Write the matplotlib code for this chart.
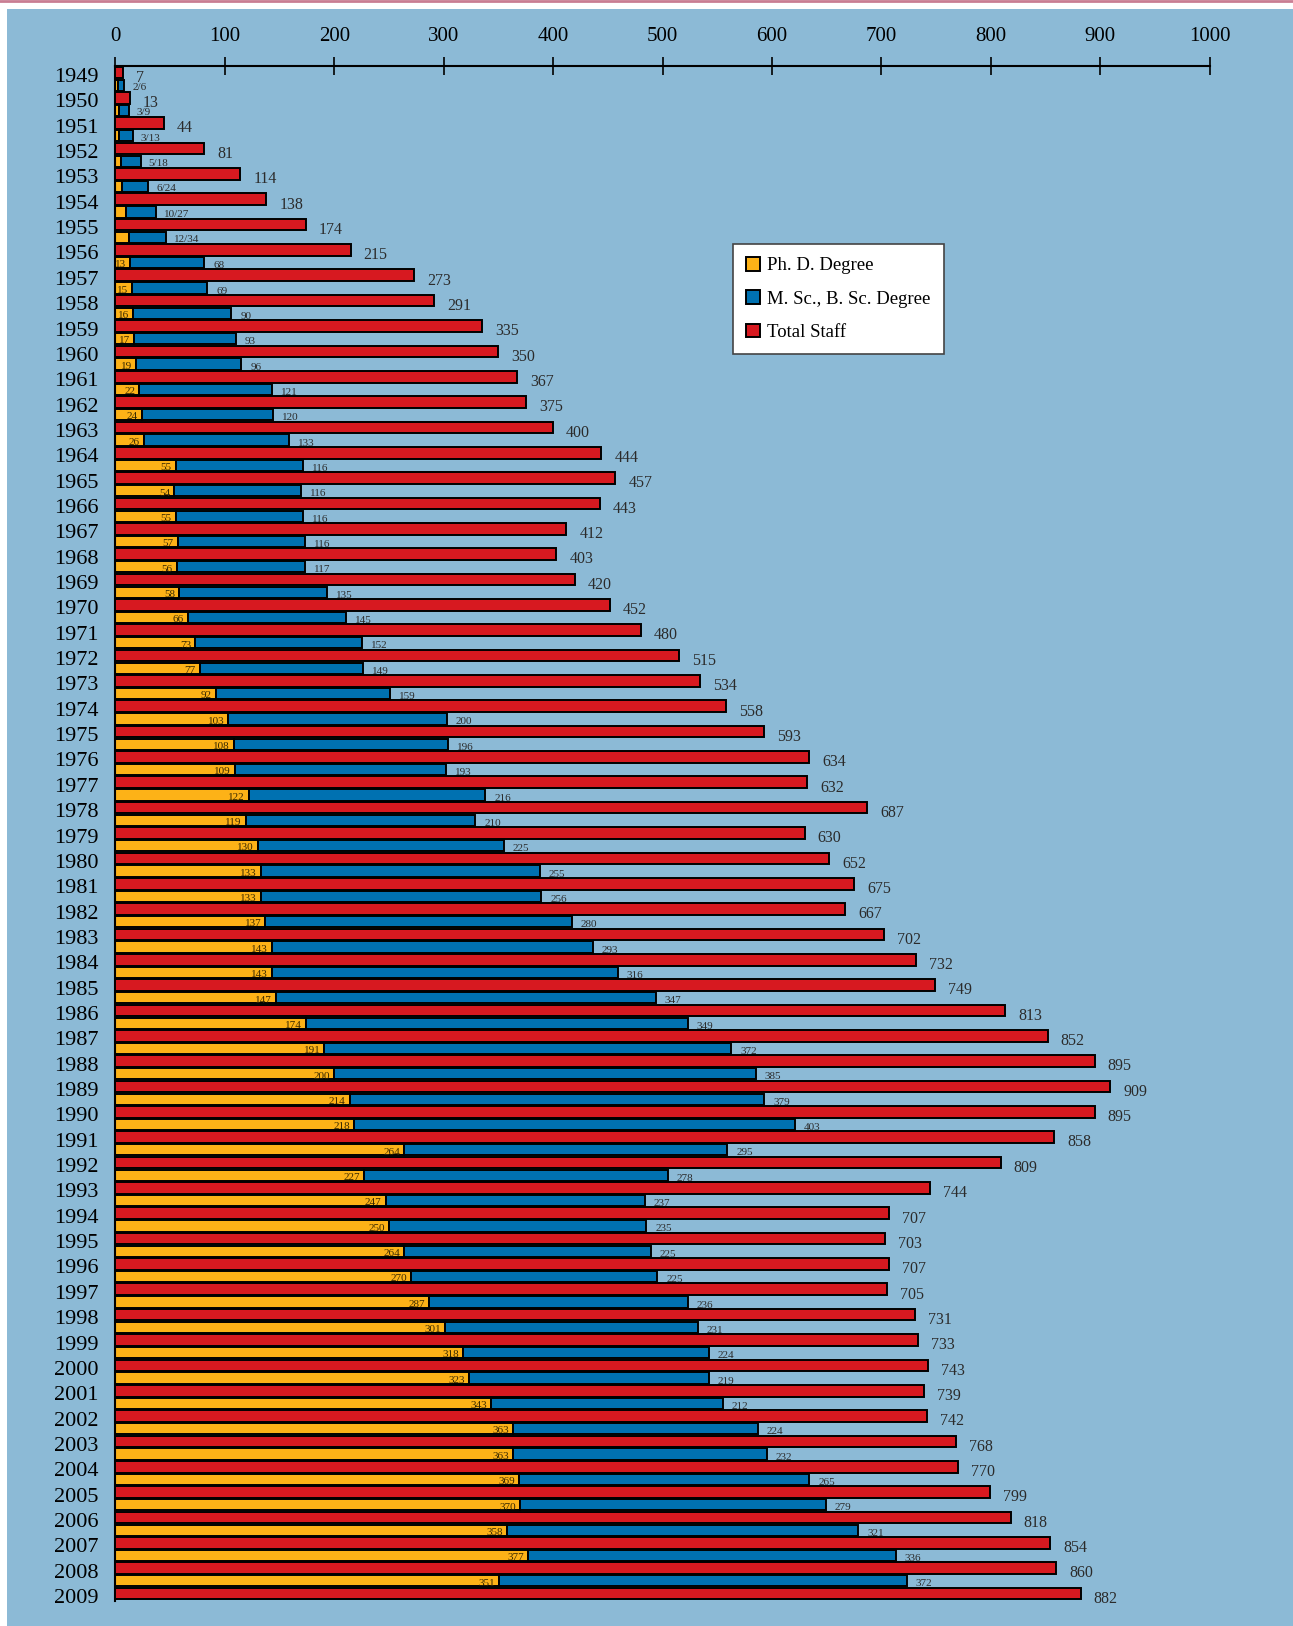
import numpy as np
import matplotlib
matplotlib.use('Agg')
from matplotlib import pyplot as plt
from matplotlib.patches import Rectangle, Patch
from matplotlib.lines import Line2D

plt.rcParams['font.family'] = ['Liberation Serif', 'DejaVu Serif']

years = list(range(1949, 2010))
total = [7, 13, 44, 81, 114, 138, 174, 215, 273, 291, 335, 350, 367, 375, 400,
         444, 457, 443, 412, 403, 420, 452, 480, 515, 534, 558, 593, 634, 632, 687,
         630, 652, 675, 667, 702, 732, 749, 813, 852, 895, 909, 895, 858, 809, 744,
         707, 703, 707, 705, 731, 733, 743, 739, 742, 768, 770, 799, 818, 854, 860,
         882]
# 1949-2008 (no split for 2009)
phd = [2, 3, 3, 5, 6, 10, 12, 13, 15, 16, 17, 19, 22, 24, 26,
       55, 54, 55, 57, 56, 58, 66, 73, 77, 92, 103, 108, 109, 122, 119,
       130, 133, 133, 137, 143, 143, 147, 174, 191, 200, 214, 218, 264, 227, 247,
       250, 264, 270, 287, 301, 318, 323, 343, 363, 363, 369, 370, 358, 377, 351]
msc = [6, 9, 13, 18, 24, 27, 34, 68, 69, 90, 93, 96, 121, 120, 133,
       116, 116, 116, 116, 117, 135, 145, 152, 149, 159, 200, 196, 193, 216, 210,
       225, 255, 256, 280, 293, 316, 347, 349, 372, 385, 379, 403, 295, 278, 237,
       235, 225, 225, 236, 231, 224, 219, 212, 224, 232, 265, 279, 321, 336, 372]
ticks = list(range(0, 1001, 100))

BG = '#8cbad6'
RED = '#d71920'
ORANGE = '#fdb217'
BLUE = '#0071b1'
TXT = '#2b2b2b'

W, H = 1293, 1626
fig = plt.figure(figsize=(W / 100, H / 100), dpi=100)
fig.patch.set_facecolor('white')
fig.add_artist(Rectangle((7 / W, 0), 1 - 7 / W, 1 - 9 / H, transform=fig.transFigure,
                         facecolor=BG, edgecolor='none', zorder=-10))
fig.add_artist(Line2D([0, 1], [1 - 1.5 / H] * 2, transform=fig.transFigure,
                      color='#c97d93', lw=2))

ax = fig.add_axes([115.4 / W, (H - 1601) / H, 1094.3 / W, (1601 - 66) / H])
ax.set_facecolor('none')
ax.set_xlim(0, 1000)
ax.set_ylim(60 + (1601 - 1593.5) / 25.35, -(72.5 - 66) / 25.35)

y = np.arange(len(years))
ys = y[:-1] + 0.5

ax.barh(y, total, height=0.46, color=RED, edgecolor='black', linewidth=1.4, zorder=3)
ax.barh(ys, phd, height=0.44, color=ORANGE, edgecolor='black', linewidth=1.4, zorder=2)
ax.barh(ys, msc, left=phd, height=0.44, color=BLUE, edgecolor='black', linewidth=1.4, zorder=3)

px = 1000 / 1094.3  # data units per pixel
for i, t in enumerate(total):
    ax.text(t + 13 * px, i + 0.13, str(t), fontsize=11.5, color=TXT,
            ha='left', va='center_baseline', zorder=4)
for i, (p, m) in enumerate(zip(phd, msc)):
    if years[i] <= 1955:
        ax.text(p + m + 8 * px, i + 0.55, f'{p}/{m}', fontsize=8, color=TXT,
                ha='left', va='center_baseline', zorder=1.5)
    else:
        ax.text(p - 4 * px, i + 0.55, str(p), fontsize=8, color='#3a2a00',
                ha='right', va='center_baseline', zorder=2.5)
        ax.text(p + m + 9 * px, i + 0.58, str(m), fontsize=8, color=TXT,
                ha='left', va='center_baseline', zorder=1.5)

ax.xaxis.tick_top()
ax.set_xticks(ticks)
ax.set_xticklabels([str(t) for t in ticks])
ax.tick_params(axis='x', direction='inout', length=13, width=1.2, pad=8,
               labelsize=15, colors='black')
ax.set_yticks(y + 0.1)
ax.set_yticklabels([str(v) for v in years])
ax.tick_params(axis='y', length=0, pad=12, labelsize=16)
for s in ['right', 'bottom']:
    ax.spines[s].set_visible(False)
ax.spines['top'].set_linewidth(1.5)
ax.spines['left'].set_linewidth(1.5)

handles = [Patch(facecolor=ORANGE, edgecolor='black', linewidth=1.4, label='Ph. D. Degree'),
           Patch(facecolor=BLUE, edgecolor='black', linewidth=1.4, label='M. Sc., B. Sc. Degree'),
           Patch(facecolor=RED, edgecolor='black', linewidth=1.4, label='Total Staff')]
leg = ax.legend(handles=handles, loc='upper left', bbox_to_anchor=(0.5644, 0.884),
                borderaxespad=0, fontsize=13.5, handlelength=0.72, handleheight=0.72,
                handletextpad=0.4, labelspacing=0.85, borderpad=0.7,
                fancybox=False, framealpha=1, edgecolor='#444444')
leg.get_frame().set_linewidth(1.2)
leg.set_zorder(5)

plt.savefig('out.png', dpi=100, facecolor=fig.get_facecolor())
